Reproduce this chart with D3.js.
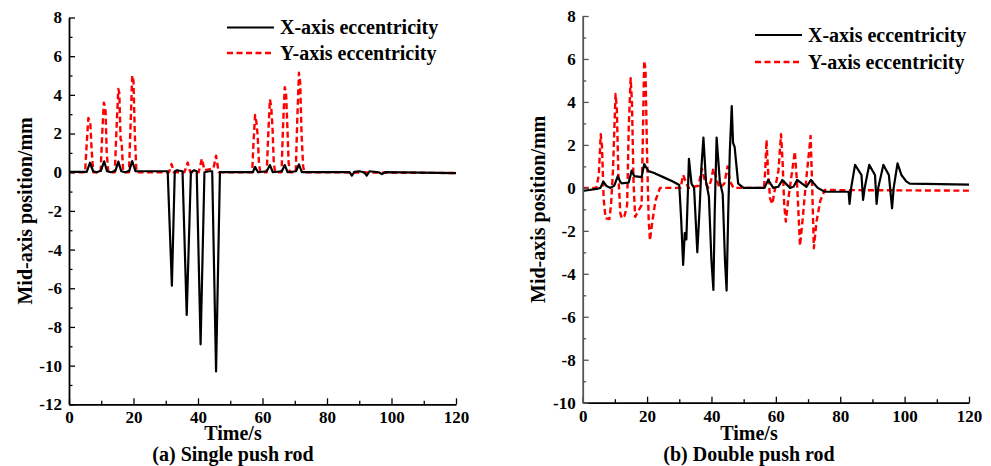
<!DOCTYPE html>
<html>
<head>
<meta charset="utf-8">
<script src="https://cdn.jsdelivr.net/npm/d3@7"></script>
<style>
  html, body { margin: 0; padding: 0; background: #fff; }
  svg text { font-family: "Liberation Serif", "Times New Roman", serif; font-weight: bold; fill: #000; }
</style>
</head>
<body>
<svg id="chart" width="991" height="466"></svg>
<script>
// ---------- DATA ----------
const seriesNames = ["X-axis eccentricity", "Y-axis eccentricity"];
const panelCaptions = ["(a) Single push rod", "(b) Double push rod"];
const xTicks = [0, 20, 40, 60, 80, 100, 120];
const yTicksA = [-12, -10, -8, -6, -4, -2, 0, 2, 4, 6, 8];
const yTicksB = [-10, -8, -6, -4, -2, 0, 2, 4, 6, 8];

// (a) Single push rod — X-axis eccentricity [time s, mm]
const singleX = [
  [0,0.02],[5.5,0.02],[6.5,0.49],[7.5,0.05],[8.5,0.0],[9.9,0.08],[10.9,0.56],[11.8,0.05],[13,0.0],
  [14.4,0.08],[15.3,0.55],[16.2,0.05],[17.5,0.0],[18.7,0.08],[19.6,0.58],[20.6,0.05],[30.6,0.05],
  [31.9,-5.87],[32.8,0.05],[33.5,0.1],[35.2,0.05],[36.5,-7.38],[37.8,0.0],[38.8,0.1],[39.6,0.05],
  [40.8,-8.9],[42.0,0.0],[43.5,0.05],[44.4,0.05],[45.6,-10.3],[46.8,0.0],[57,0.0],[57.7,0.28],
  [58.6,0.0],[61.3,0.05],[62.3,0.37],[63.2,0.0],[66.0,0.05],[66.9,0.37],[67.8,0.0],[70.4,0.05],
  [71.3,0.4],[72.2,0.0],[87,0.0],[87.7,-0.18],[88.5,0.02],[90,0.05],[91.5,0.0],[92.3,-0.18],
  [93.2,0.05],[96,0.0],[97,-0.1],[98,0.0],[120,-0.05]
];
// (a) Single push rod — Y-axis eccentricity
const singleY = [
  [0,0],[5.0,0],[5.5,1.5],[6.0,2.8],[6.6,2.6],[7.0,1.2],[7.5,0],[9.8,0],[10.3,2.0],[10.8,3.6],
  [11.3,3.3],[11.7,1.0],[12.2,0],[14.2,0],[14.8,2.5],[15.3,4.3],[15.6,4.1],[16.0,1.7],[16.3,1.6],
  [16.8,0],[18.6,0],[19.1,2.5],[19.6,5.0],[20.0,4.7],[20.4,2.0],[20.9,0],[31.0,0],[31.8,0.42],
  [32.5,0.0],[35.8,0],[36.8,0.5],[37.6,0],[40.2,0],[41.2,0.7],[42.0,0.1],[44.8,0.2],[45.6,0.85],
  [46.4,0],[56.8,0],[57.2,1.5],[57.7,2.96],[58.1,2.6],[58.5,1.9],[58.9,0.5],[59.3,0],[61.3,0],
  [61.8,2.0],[62.3,3.77],[62.7,3.4],[63.1,2.3],[63.5,0.5],[63.9,0],[65.9,0],[66.4,2.5],[66.9,4.39],
  [67.3,4.1],[67.7,2.4],[68.1,0.5],[68.5,0],[70.3,0],[70.8,2.8],[71.3,5.14],[71.7,4.6],[72.1,2.0],
  [72.6,0.3],[73.0,0],[120,-0.04]
];
// (b) Double push rod — X-axis eccentricity
const doubleX = [
  [0,-0.14],[2,-0.1],[4.3,-0.05],[5.5,0.0],[6.4,0.29],[7.3,0.1],[8.5,0.0],[9.8,0.1],[10.9,0.55],
  [11.6,0.3],[12.1,0.21],[14.3,0.25],[15.2,0.8],[16.0,0.55],[18.3,0.5],[19.1,1.11],[20.4,0.78],
  [22,0.7],[25,0.5],[28,0.3],[30.0,0.13],[30.6,-1.5],[31.2,-3.59],[31.7,-2.1],[32.2,-2.4],[33.0,1.35],
  [33.8,0.2],[34.6,0.0],[35.6,-3.0],[36.3,-1.0],[36.9,1.0],[37.5,2.34],[38.3,0.3],[39.2,-0.4],
  [40.0,-3.4],[40.6,-4.75],[41.0,-1.2],[41.6,2.34],[42.6,0.3],[43.5,-0.3],[44.2,-3.4],[44.7,-4.78],
  [45.2,-1.2],[45.7,1.7],[46.3,3.81],[46.7,2.1],[47.2,1.9],[48.3,0.2],[50,0.0],[56.5,0.0],[57.6,0.37],
  [59.2,0.0],[60.8,0.05],[62.0,0.37],[64.4,0.0],[65.5,0.05],[66.6,0.37],[69.5,0.05],[70.9,0.37],
  [73,0.0],[75.2,-0.18],[82.6,-0.18],[82.9,-0.75],[83.4,0.0],[84.6,1.07],[86.6,0.6],[87.1,-0.56],
  [87.6,0.0],[89,1.07],[90.8,0.6],[91.3,-0.75],[91.8,0.0],[93.4,1.07],[95.1,0.6],[96.1,-0.95],
  [96.6,0.0],[97.8,1.14],[99,0.6],[100.5,0.3],[101.6,0.2],[120,0.15]
];
// (b) Double push rod — Y-axis eccentricity
const doubleY = [
  [0,0],[4.2,0],[5.0,0.6],[5.6,2.5],[6.0,1.9],[6.5,-0.5],[7.1,-1.42],[8.3,-1.45],[8.8,-0.8],
  [9.4,0.8],[10.2,4.37],[10.6,3.7],[11.1,0.5],[11.7,-1.2],[12.2,-1.42],[13.0,-1.3],[13.8,-0.8],
  [14.3,2.8],[14.9,5.1],[15.3,4.0],[15.8,0.2],[16.3,-1.35],[17.2,-1.1],[18.3,-0.8],[18.7,2.5],
  [19.1,5.92],[19.5,5.5],[20.0,1.5],[20.5,-1.5],[20.9,-2.45],[21.6,-1.6],[22.6,-0.6],[24,0.0],
  [30.4,0.0],[31.2,0.6],[32.0,0.3],[32.8,0.0],[36.0,0.1],[37.0,0.9],[38.0,0.3],[39.0,0.0],[39.8,0.3],
  [40.6,0.9],[41.4,0.5],[42.5,0.0],[44.0,0.2],[45.0,1.0],[45.8,0.3],[46.8,0.0],[56.3,0.0],[56.7,0.8],
  [57.1,2.23],[57.5,1.0],[58.2,-0.5],[58.9,-0.75],[59.8,0.0],[60.8,0.8],[61.6,2.5],[62.1,1.2],
  [62.6,-0.8],[63.1,-1.57],[63.8,-0.6],[64.8,0.5],[65.9,1.69],[66.6,0.2],[67.5,-2.69],[68.3,-1.5],
  [69.5,0.5],[70.2,1.5],[70.8,2.42],[71.3,0.0],[71.8,-2.81],[72.6,-1.6],[73.8,-0.6],[75.2,-0.1],
  [120,-0.13]
];

// ---------- LAYOUT ----------
const svg = d3.select("#chart");
svg.append("rect").attr("width", 991).attr("height", 466).attr("fill", "#fff");

const FONT = '"Liberation Serif", "Times New Roman", serif';

const panels = [
  { x0: 69, x1: 456, yTop: 17.5, yBot: 404.3, yDomain: [-12, 8], yTicks: yTicksA,
    X: singleX, Y: singleY, caption: panelCaptions[0], yAxisColor: "#000",
    titleX: 233, yTitleX: 25, legX: 227, legY: 27.5, legGap: 25.5 },
  { x0: 582.7, x1: 969, yTop: 16, yBot: 402.7, yDomain: [-10, 8], yTicks: yTicksB,
    X: doubleX, Y: doubleY, caption: panelCaptions[1], yAxisColor: "#555",
    titleX: 749, yTitleX: 538, legX: 755, legY: 35, legGap: 27 }
];

panels.forEach((p, i) => {
  const x = d3.scaleLinear().domain([0, 120]).range([p.x0, p.x1]);
  const y = d3.scaleLinear().domain(p.yDomain).range([p.yBot, p.yTop]);
  const g = svg.append("g");

  const clipId = "clip" + i;
  svg.append("clipPath").attr("id", clipId).append("rect")
    .attr("x", p.x0).attr("y", p.yTop - 2).attr("width", p.x1 - p.x0 + 2).attr("height", p.yBot - p.yTop + 2);

  const line = d3.line().x(d => x(d[0])).y(d => y(d[1]));

  // data lines
  g.append("path").datum(p.Y).attr("d", line).attr("clip-path", `url(#${clipId})`)
    .attr("fill", "none").attr("stroke", "#ff0000").attr("stroke-width", 2.4)
    .attr("stroke-dasharray", "6,3.5").attr("stroke-linejoin", "round");
  g.append("path").datum(p.X).attr("d", line).attr("clip-path", `url(#${clipId})`)
    .attr("fill", "none").attr("stroke", "#000").attr("stroke-width", 2.2)
    .attr("stroke-linejoin", "round");

  // minor ticks
  const minorX = d3.range(0, 121, 10).filter(v => v % 20 !== 0);
  const minorY = d3.range(p.yDomain[0], p.yDomain[1] + 1, 1).filter(v => v % 2 !== 0);
  g.append("g").attr("transform", `translate(0,${p.yBot})`)
    .call(d3.axisBottom(x).tickValues(minorX).tickSize(-3.5).tickFormat(""))
    .call(a => a.select(".domain").remove())
    .call(a => a.selectAll("line").attr("stroke", "#000").attr("stroke-width", 1.3));
  g.append("g").attr("transform", `translate(${p.x0},0)`)
    .call(d3.axisLeft(y).tickValues(minorY).tickSize(-3.5).tickFormat(""))
    .call(a => a.select(".domain").remove())
    .call(a => a.selectAll("line").attr("stroke", p.yAxisColor).attr("stroke-width", 1.3));

  // major axes
  const styleAxis = (a, col) => {
    a.attr("font-family", FONT).attr("font-size", 17).attr("font-weight", "bold");
    a.select(".domain").attr("stroke", col).attr("stroke-width", 1.8);
    a.selectAll("line").attr("stroke", col).attr("stroke-width", 1.3);
    a.selectAll("text").attr("fill", "#000").style("font-family", FONT).style("font-weight", "bold").style("font-size", "17px");
  };
  g.append("g").attr("transform", `translate(0,${p.yBot})`)
    .call(d3.axisBottom(x).tickValues(xTicks).tickSize(-6).tickSizeOuter(0).tickPadding(7).tickFormat(d => String(d)))
    .call(a => styleAxis(a, "#000"));
  g.append("g").attr("transform", `translate(${p.x0},0)`)
    .call(d3.axisLeft(y).tickValues(p.yTicks).tickSize(-6).tickSizeOuter(0).tickPadding(7).tickFormat(d => String(d)))
    .call(a => styleAxis(a, p.yAxisColor));

  // titles
  g.append("text").attr("x", p.titleX).attr("y", 440).attr("text-anchor", "middle")
    .attr("font-size", 20).text("Time/s");
  g.append("text").attr("x", p.titleX).attr("y", 460.5).attr("text-anchor", "middle")
    .attr("font-size", 20).text(p.caption);
  g.append("text").attr("transform", `translate(${p.yTitleX + 7},${(p.yTop + p.yBot) / 2}) rotate(-90)`)
    .attr("text-anchor", "middle").attr("font-size", 20).text("Mid-axis position/mm");

  // legend
  const leg = g.append("g");
  [0, 1].forEach(k => {
    const ly = p.legY + k * p.legGap;
    leg.append("line").attr("x1", p.legX).attr("x2", p.legX + 47).attr("y1", ly).attr("y2", ly)
      .attr("stroke", k === 0 ? "#000" : "#ff0000").attr("stroke-width", k === 0 ? 2.2 : 2.4)
      .attr("stroke-dasharray", k === 0 ? null : "6,3.5");
    leg.append("text").attr("x", p.legX + 53).attr("y", ly).attr("dy", "0.33em")
      .attr("font-size", 20).text(seriesNames[k]);
  });
});
</script>
</body>
</html>
